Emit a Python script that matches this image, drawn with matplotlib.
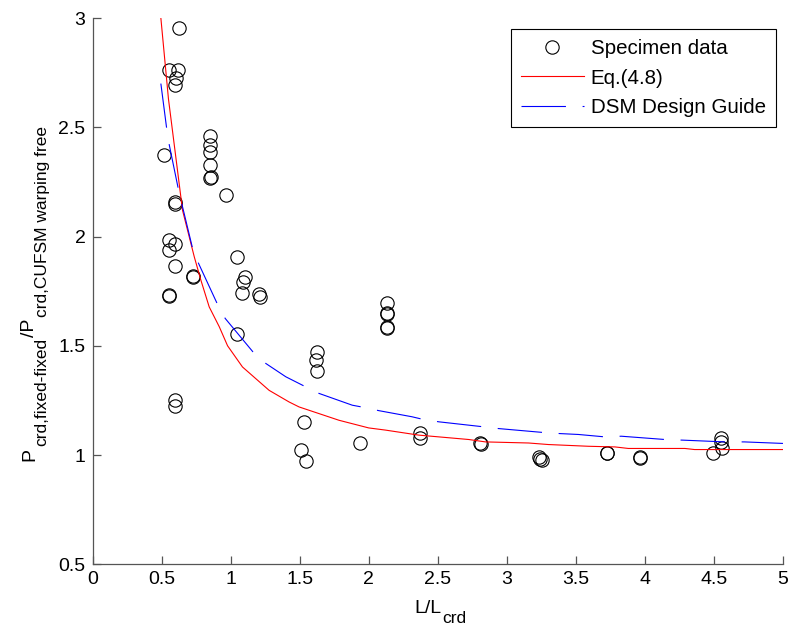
import matplotlib
matplotlib.use("Agg")
import matplotlib.pyplot as plt
from matplotlib.transforms import IdentityTransform

plt.rcParams["font.family"] = ["Liberation Sans", "DejaVu Sans"]

# specimen test data (L/Lcrd, ratio)
spec_x = [0.629, 0.520, 0.551, 0.617, 0.605, 0.600, 0.850, 0.850, 0.852, 0.850,
          0.857, 0.852, 0.966, 0.600, 0.600, 0.551, 0.600, 0.556, 0.600, 0.725,
          0.727, 0.551, 0.553, 1.045, 1.105, 1.093, 1.082, 1.207, 1.212, 1.050,
          0.600, 0.600, 2.134, 2.134, 2.136, 2.134, 2.136, 1.623, 1.616, 1.623,
          1.532, 1.510, 1.544, 1.936, 2.375, 2.375, 2.808, 2.812, 3.230, 3.254,
          3.240, 3.723, 3.725, 3.964, 3.966, 4.494, 4.550, 4.550, 4.555]
spec_y = [2.954, 2.373, 2.762, 2.762, 2.724, 2.693, 2.460, 2.419, 2.388, 2.327,
          2.273, 2.266, 2.190, 2.159, 2.150, 1.984, 1.965, 1.938, 1.866, 1.819,
          1.815, 1.732, 1.727, 1.904, 1.813, 1.793, 1.742, 1.739, 1.721, 1.552,
          1.254, 1.224, 1.696, 1.648, 1.645, 1.587, 1.582, 1.472, 1.434, 1.384,
          1.149, 1.025, 0.972, 1.053, 1.101, 1.080, 1.055, 1.050, 0.989, 0.976,
          0.982, 1.011, 1.008, 0.991, 0.988, 1.011, 1.076, 1.060, 1.030]

# Eq.(4.8)
eq_x = [0.495, 0.55, 0.652, 0.737, 0.785, 0.845, 0.918, 0.978, 1.086, 1.279,
        1.423, 1.496, 1.785, 2.0, 2.122, 2.363, 2.724, 2.845, 3.158, 3.30,
        3.591, 3.784, 3.88, 4.29, 4.36, 5.0]
eq_y = [3.0, 2.63, 2.12, 1.907, 1.80, 1.678, 1.587, 1.50, 1.403, 1.296,
        1.243, 1.22, 1.159, 1.124, 1.114, 1.091, 1.071, 1.060, 1.055, 1.048,
        1.040, 1.037, 1.030, 1.030, 1.025, 1.025]

# DSM design guide
dsm_x = [0.495, 0.537, 0.556, 0.624, 0.652, 0.725, 0.768, 0.905, 0.961, 1.171,
         1.255, 1.40, 1.544, 1.64, 1.881, 1.965, 2.074, 2.314, 2.387, 2.507,
         2.832, 2.941, 3.266, 3.387, 3.519, 3.71, 3.83, 4.145, 4.277, 4.58,
         4.72, 5.0]
dsm_y = [2.70, 2.495, 2.419, 2.21, 2.136, 1.945, 1.877, 1.69, 1.625, 1.465,
         1.419, 1.358, 1.312, 1.282, 1.228, 1.218, 1.203, 1.175, 1.164, 1.152,
         1.129, 1.121, 1.103, 1.098, 1.094, 1.083, 1.086, 1.071, 1.068, 1.060,
         1.060, 1.053]

W, H = 794, 628
fig = plt.figure(figsize=(W / 100, H / 100), dpi=100)
ax = fig.add_axes([0.1165, 0.1015, 0.8696, 0.8698])

ax.plot(spec_x, spec_y, "o", mfc="none", mec="black", ms=9.6, mew=0.8,
        label="Specimen data")
ax.plot(eq_x, eq_y, "-", color="red", lw=0.8, label="Eq.(4.8)")
ax.plot(dsm_x, dsm_y, color="blue", lw=0.8, dashes=(40, 15),
        label="DSM Design Guide")

ax.set_xlim(0, 5)
ax.set_ylim(0.5, 3)
ax.set_xticks([0, 0.5, 1, 1.5, 2, 2.5, 3, 3.5, 4, 4.5, 5])
ax.set_xticklabels(["0", "0.5", "1", "1.5", "2", "2.5", "3", "3.5", "4", "4.5", "5"])
ax.set_yticks([0.5, 1, 1.5, 2, 2.5, 3])
ax.set_yticklabels(["0.5", "1", "1.5", "2", "2.5", "3"])

for side in ["top", "right"]:
    ax.spines[side].set_visible(False)
for side in ["left", "bottom"]:
    ax.spines[side].set_color("#555555")
    ax.spines[side].set_linewidth(0.9)
ax.tick_params(direction="in", length=6, width=0.9, color="#555555",
               labelsize=14, pad=5)

leg = ax.legend(loc="upper right", bbox_to_anchor=(0.99, 0.98), borderaxespad=0,
                fontsize=14.8, handlelength=3.05, handletextpad=0.34,
                labelspacing=0.5, borderpad=0.5, fancybox=False,
                framealpha=1)
leg.get_frame().set_edgecolor("black")
leg.get_frame().set_linewidth(0.8)

# axis labels with MATLAB-style subscripts, placed piece by piece (pixel coords)
renderer = fig.canvas.get_renderer()


def rich_label(pieces, start, base, vertical, gap=1.5):
    pos = start
    for s, size, shift in pieces:
        if vertical:
            t = fig.text(base + shift, H - pos, s, rotation=90, rotation_mode="anchor",
                         ha="left", va="baseline", fontsize=size,
                         transform=IdentityTransform())
            pos -= t.get_window_extent(renderer).height + gap
        else:
            t = fig.text(pos, H - (base + shift), s, ha="left", va="baseline",
                         fontsize=size, transform=IdentityTransform())
            pos += t.get_window_extent(renderer).width + gap


rich_label([("P", 14, 0), ("crd,fixed-fixed", 12.5, 12.5), ("/P", 14, 0),
            ("crd,CUFSM warping free", 12.5, 12.5)], start=461, base=34, vertical=True)
rich_label([("L/L", 14, 0), ("crd", 12.5, 10)], start=414, base=613, vertical=False)

fig.savefig("out.png", dpi=100)
